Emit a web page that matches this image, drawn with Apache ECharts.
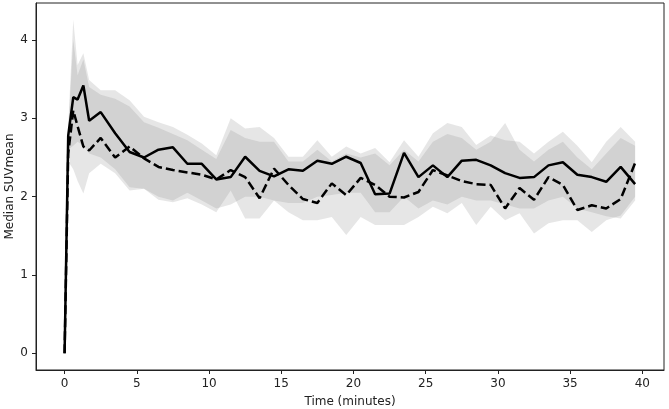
<!DOCTYPE html>
<html>
<head>
<meta charset="utf-8">
<script src="https://cdn.jsdelivr.net/npm/echarts@6/dist/echarts.min.js"></script>
<style>
  html, body { margin: 0; padding: 0; background: #fff; }
  #chart { width: 669px; height: 409px; }
</style>
</head>
<body>
<div id="chart"></div>
<script>
// frame mid-times (minutes)
const times = [0, 0.25, 0.6, 0.9, 1.3, 1.7,
  2.5, 3.5, 4.5, 5.5, 6.5, 7.5, 8.5, 9.5, 10.5, 11.5, 12.5, 13.5, 14.5, 15.5,
  16.5, 17.5, 18.5, 19.5, 20.5, 21.5, 22.5, 23.5, 24.5, 25.5, 26.5, 27.5, 28.5, 29.5,
  30.5, 31.5, 32.5, 33.5, 34.5, 35.5, 36.5, 37.5, 38.5, 39.5]

// solid line median + its band
const solidMedian = [0, 2.78, 3.27, 3.24, 3.42, 2.97, 3.08, 2.81, 2.57, 2.5, 2.6, 2.63, 2.42, 2.42, 2.22,
  2.25, 2.51, 2.33, 2.26, 2.35, 2.33, 2.46, 2.42, 2.51, 2.43, 2.03, 2.04, 2.56, 2.25, 2.40,
  2.25, 2.46, 2.47, 2.40, 2.30, 2.24, 2.25, 2.40, 2.44, 2.28, 2.25, 2.19, 2.38, 2.16]
const solidLow = [0, 2.6, 2.65, 2.7, 2.65, 2.55, 2.5, 2.35, 2.12, 2.1, 2.0, 1.95, 2.05, 1.95, 1.85,
  1.9, 2.0, 2.0, 1.95, 1.92, 1.92, 2.0, 2.02, 2.05, 2.05, 1.8, 1.8, 2.0, 1.85, 1.95,
  1.9, 2.0, 1.95, 1.95, 1.9, 1.85, 1.85, 1.95, 2.0, 1.85, 1.8, 1.75, 1.72, 1.95]
const solidHigh = [0, 2.9, 4.26, 3.68, 3.83, 3.49, 3.36, 3.36, 3.23, 3.02, 2.95, 2.89, 2.79, 2.68, 2.53,
  3.0, 2.87, 2.89, 2.75, 2.51, 2.51, 2.72, 2.51, 2.64, 2.55, 2.62, 2.44, 2.72, 2.51, 2.81,
  2.94, 2.89, 2.66, 2.78, 2.72, 2.7, 2.55, 2.7, 2.83, 2.65, 2.44, 2.7, 2.89, 2.7]

// dashed line median + its band
const dashedMedian = [0, 2.55, 3.1, 2.9, 2.64, 2.59, 2.75, 2.5, 2.64, 2.49, 2.38, 2.34, 2.31, 2.28, 2.22,
  2.34, 2.25, 1.98, 2.36, 2.15, 1.97, 1.92, 2.17, 2.02, 2.24, 2.15, 2.0, 1.99, 2.06, 2.34,
  2.27, 2.2, 2.16, 2.15, 1.85, 2.11, 1.96, 2.25, 2.15, 1.83, 1.89, 1.85, 1.97, 2.43]
const dashedLow = [0, 2.45, 2.35, 2.2, 2.04, 2.3, 2.42, 2.3, 2.08, 2.1, 1.96, 1.93, 1.98, 1.9, 1.8,
  2.08, 1.72, 1.72, 1.95, 1.8, 1.7, 1.7, 1.74, 1.51, 1.74, 1.64, 1.64, 1.64, 1.74, 1.87,
  1.79, 1.92, 1.64, 1.87, 1.7, 1.79, 1.53, 1.66, 1.7, 1.7, 1.55, 1.7, 1.76, 2.0]
const dashedHigh = [0, 2.85, 4.0, 3.55, 3.75, 3.4, 3.3, 3.25, 3.15, 2.95, 2.88, 2.8, 2.72, 2.6, 2.48,
  2.85, 2.75, 2.7, 2.7, 2.45, 2.45, 2.6, 2.45, 2.55, 2.5, 2.55, 2.4, 2.6, 2.45, 2.7,
  2.8, 2.75, 2.6, 2.7, 2.94, 2.6, 2.45, 2.6, 2.7, 2.5, 2.35, 2.55, 2.75, 2.65]

const xTicks = [0, 5, 10, 15, 20, 25, 30, 35, 40]
const yTicks = [0, 1, 2, 3, 4]

const font = 'DejaVu Sans'
const textColor = '#222'

function pairs(ys) {
  return times.map((t, i) => [t, ys[i]])
}

// filled band between low and high, drawn as one polygon through the axes
function band(name, low, high) {
  return {
    name: name + '-band',
    type: 'custom',
    silent: true,
    data: [[times[0], low[0]]],
    renderItem: function (params, api) {
      const pts = []
      times.forEach((t, i) => pts.push(api.coord([t, high[i]])))
      for (let i = times.length - 1; i >= 0; i--) pts.push(api.coord([times[i], low[i]]))
      return {
        type: 'polygon',
        shape: { points: pts },
        style: { fill: 'rgba(128,128,128,0.2)' }
      }
    },
    z: 1
  }
}

const chart = echarts.init(document.getElementById('chart'))

chart.setOption({
  animation: false,
  grid: {
    left: 36,
    right: 5,
    top: 3,
    bottom: 39,
    outerBoundsMode: 'none',
    containLabel: false,
    show: true,
    borderColor: '#222',
    borderWidth: 1,
    backgroundColor: 'transparent'
  },
  xAxis: {
    type: 'value',
    min: -1.98,
    max: 41.5,
    name: 'Time (minutes)',
    nameLocation: 'middle',
    nameGap: 26,
    nameMoveOverlap: false,
    nameTextStyle: { color: textColor, fontFamily: font, fontSize: 12 },
    axisLine: { show: true, onZero: false, lineStyle: { color: '#222', width: 1 } },
    splitLine: { show: false },
    axisTick: { show: true, length: 4, customValues: xTicks, lineStyle: { color: '#222' } },
    axisLabel: { customValues: xTicks, color: textColor, fontFamily: font, fontSize: 12, margin: 8 }
  },
  yAxis: {
    type: 'value',
    min: -0.213,
    max: 4.473,
    name: 'Median SUVmean',
    nameLocation: 'middle',
    nameGap: 20,
    nameMoveOverlap: false,
    nameTextStyle: { color: textColor, fontFamily: font, fontSize: 12 },
    axisLine: { show: true, onZero: false, lineStyle: { color: '#222', width: 1 } },
    splitLine: { show: false },
    axisTick: { show: true, length: 4, customValues: yTicks, lineStyle: { color: '#222' } },
    axisLabel: { customValues: yTicks, color: textColor, fontFamily: font, fontSize: 12, margin: 8 }
  },
  series: [
    band('solid', solidLow, solidHigh),
    band('dashed', dashedLow, dashedHigh),
    {
      name: 'solid',
      type: 'line',
      data: pairs(solidMedian),
      symbol: 'none',
      lineStyle: { color: '#000', width: 2.5 },
      z: 5
    },
    {
      name: 'dashed',
      type: 'line',
      data: pairs(dashedMedian),
      symbol: 'none',
      lineStyle: { color: '#000', width: 2.5, type: [9, 4] },
      z: 5
    }
  ]
})
</script>
</body>
</html>
